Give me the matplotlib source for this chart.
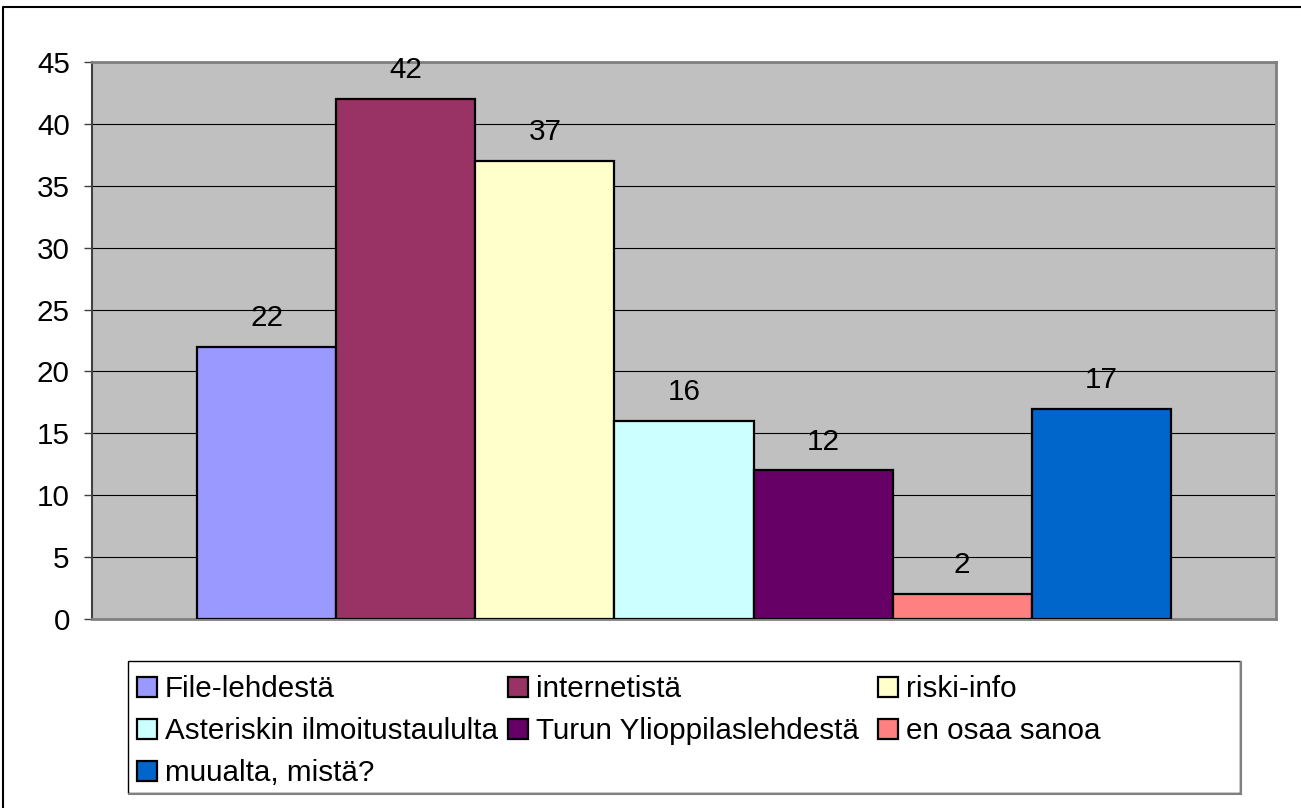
import matplotlib
matplotlib.use("Agg")
import matplotlib.pyplot as plt
from matplotlib.patches import Rectangle
from matplotlib.lines import Line2D

plt.rcParams['font.family'] = ['Liberation Sans', 'DejaVu Sans']

# data
labels = ['File-lehdestä', 'internetistä', 'riski-info', 'Asteriskin ilmoitustaululta',
          'Turun Ylioppilaslehdestä', 'en osaa sanoa', 'muualta, mistä?']
values = [22, 42, 37, 16, 12, 2, 17]
colors = ['#9999FF', '#993366', '#FFFFCC', '#CCFFFF', '#660066', '#FF8080', '#0066CC']
yticks = list(range(0, 46, 5))

W, H = 1301, 808
fig = plt.figure(figsize=(W / 100, H / 100), dpi=100)
ax = fig.add_axes([92 / W, 1 - 619 / H, (1276 - 92) / W, (619 - 62) / H])
ax.set_facecolor('#C0C0C0')

fs = 21.3
n = len(values)
bars = []
for i, (lab, v, c) in enumerate(zip(labels, values, colors)):
    x = i - (n - 1) / 2
    b = ax.bar(x, v, width=1.0, color=c, edgecolor='black', linewidth=1.6,
               label=lab, zorder=3)
    bars.append(b)
    ax.annotate(str(v), (x, v), xytext=(0, 15), textcoords='offset points',
                ha='center', va='baseline', fontsize=fs, zorder=4)

margin = (197 - 92) / 139
ax.set_xlim(-n / 2 - margin, n / 2 + margin)
ax.set_ylim(0, 45)
ax.set_yticks(yticks)
ax.set_xticks([])
ax.tick_params(axis='y', direction='out', length=6, width=1, color='#404040',
               pad=10, labelsize=fs)
ax.yaxis.grid(True, color='black', linewidth=0.8, zorder=1)
ax.set_axisbelow(True)

ax.spines['left'].set_color('#404040')
ax.spines['left'].set_linewidth(1.5)
for s in ['top', 'right', 'bottom']:
    ax.spines[s].set_color('#808080')
    ax.spines[s].set_linewidth(2)

# legend: three columns placed separately
cols = [[0, 3, 6], [1, 4], [2, 5]]
col_x = [137, 508, 878]
for idx, cx in zip(cols, col_x):
    fig.legend([bars[i] for i in idx], [labels[i] for i in idx],
               loc='upper left', bbox_to_anchor=(cx / W, 1 - 675 / H),
               frameon=False, fontsize=fs, handlelength=0.66,
               handleheight=0.66, handletextpad=0.28, labelspacing=0.48,
               borderpad=0, borderaxespad=0)

# legend frame
fig.add_artist(Rectangle((128 / W, 1 - 793 / H), (1240 - 128) / W, (793 - 661) / H,
                         transform=fig.transFigure, fill=False,
                         edgecolor='black', linewidth=1))
fig.add_artist(Line2D([1241 / W, 1241 / W], [1 - 662 / H, 1 - 794 / H],
                      transform=fig.transFigure, color='#808080', linewidth=1.5))
fig.add_artist(Line2D([129 / W, 1241 / W], [1 - 794 / H, 1 - 794 / H],
                      transform=fig.transFigure, color='#808080', linewidth=1.5))

# outer border
fig.add_artist(Line2D([2.5 / W, 2.5 / W, 1], [0, 1 - 6.5 / H, 1 - 6.5 / H],
                      transform=fig.transFigure, color='black', linewidth=1.5))

fig.savefig('out.png', dpi=100)
